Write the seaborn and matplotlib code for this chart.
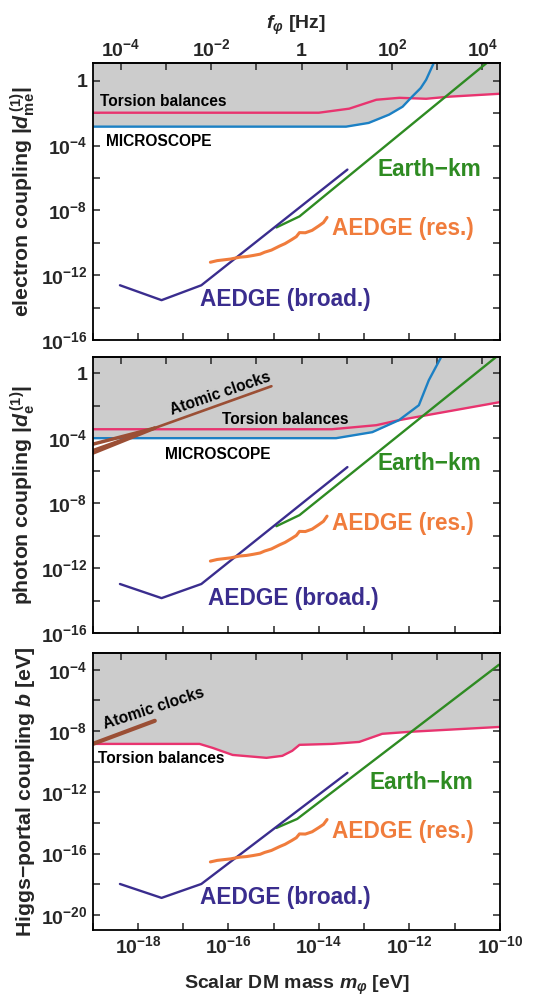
import numpy as np
import seaborn as sns
import matplotlib
matplotlib.use('Agg')
import matplotlib.pyplot as plt
from matplotlib.ticker import FixedLocator, FuncFormatter, NullLocator

sns.set_style('ticks')
plt.rcParams['font.family'] = ['Liberation Sans', 'DejaVu Sans']
plt.rcParams['font.weight'] = 'bold'
plt.rcParams['mathtext.fontset'] = 'custom'
plt.rcParams['mathtext.rm'] = 'Liberation Sans:bold'
plt.rcParams['mathtext.it'] = 'Liberation Sans:bold:italic'
plt.rcParams['mathtext.bf'] = 'Liberation Sans:bold'

# Planck constant in eV s, for f = m / h
H_EV = 4.135667e-15

# ---- data (log10 of mass in eV, log10 of coupling) ----
# panel 1: electron coupling
e_micro_x = [-19.0, -13.40, -12.90, -12.45, -12.15, -11.94, -11.75, -11.63, -11.46]
e_micro_y = [-2.83, -2.83, -2.60, -2.09, -1.60, -0.98, -0.45, 0.06, 1.10]
e_tors_x = [-19.0, -14.00, -13.33, -12.73, -12.22, -11.63, -11.12, -10.0]
e_tors_y = [-1.97, -1.97, -1.72, -1.17, -1.05, -1.11, -0.98, -0.80]
e_earth_x = [-14.94, -14.43, -10.29]
e_earth_y = [-9.05, -8.37, 1.10]
e_broad_x = [-18.40, -17.48, -16.60, -13.37]
e_broad_y = [-12.62, -13.54, -12.62, -5.48]
e_res_x = [-16.40, -16.25, -16.10, -15.95, -15.76, -15.60, -15.45, -15.30, -15.20, -15.05,
           -14.87, -14.75, -14.60, -14.50, -14.43, -14.30, -14.15, -14.00, -13.90, -13.82]
e_res_y = [-11.20, -11.10, -11.05, -11.00, -10.89, -10.85, -10.78, -10.70, -10.58, -10.45,
           -10.20, -10.05, -9.80, -9.62, -9.37, -9.38, -9.23, -8.95, -8.75, -8.43]

# panel 2: photon coupling
g_micro_x = [-19.0, -13.62, -12.82, -12.23, -11.79, -11.57, -11.30]
g_micro_y = [-4.00, -4.00, -3.63, -2.89, -1.97, -0.43, 0.98]
g_tors_x = [-19.0, -13.71, -12.73, -12.23, -10.0]
g_tors_y = [-3.45, -3.45, -3.20, -2.89, -1.78]
g_earth_x = [-14.94, -14.43, -10.09]
g_earth_y = [-9.42, -8.74, 0.98]
g_broad_x = [-18.40, -17.48, -16.60, -13.37]
g_broad_y = [-12.98, -13.85, -12.98, -5.78]
g_res_x = e_res_x
g_res_y = [-11.57, -11.47, -11.42, -11.37, -11.26, -11.22, -11.15, -11.07, -10.95, -10.82,
           -10.57, -10.42, -10.17, -9.99, -9.74, -9.75, -9.60, -9.32, -9.12, -8.80]
g_clock_x = [-19.0, -15.05]
g_clock_y = [-4.74, -0.80]
g_clock2_x = [-19.0, -17.63]
g_clock2_y = [-4.37, -3.38]
g_clock3_x = [-19.0, -17.63]
g_clock3_y = [-4.92, -3.38]

# panel 3: Higgs-portal coupling
h_tors_x = [-19.0, -16.64, -16.35, -15.91, -15.16, -14.81, -14.59, -14.43, -13.71, -13.11,
            -12.60, -12.00, -10.0]
h_tors_y = [-8.84, -8.84, -9.10, -9.56, -9.75, -9.62, -9.29, -8.90, -8.84, -8.71,
            -8.18, -8.05, -7.73]
h_earth_x = [-14.94, -14.48, -10.02]
h_earth_y = [-14.33, -13.74, -3.67]
h_broad_x = [-18.40, -17.48, -16.60, -13.37]
h_broad_y = [-17.99, -18.90, -17.99, -10.73]
h_res_x = e_res_x
h_res_y = [-16.55, -16.45, -16.40, -16.35, -16.24, -16.20, -16.13, -16.05, -15.93, -15.80,
           -15.55, -15.40, -15.15, -14.97, -14.72, -14.73, -14.58, -14.30, -14.10, -13.78]
h_clock_x = [-19.0, -17.63]
h_clock_y = [-8.84, -7.33]

PINK = '#e8346f'
BLUE = '#1c80c4'
GREEN = '#2e8b22'
PURPLE = '#3a2d8e'
ORANGE = '#f07c3c'
BROWN = '#9b4f35'
GRAY = '#cccccc'

FS_TICK = 14
FS_LAB = 14
FS_YLAB = 15.3
FS_SMALL = 11.2
FS_BIG = 16.3


def p10(v):
    return 10.0 ** np.asarray(v, dtype=float)


def line(ax, xs, ys, color, lw=1.7):
    sns.lineplot(x=p10(xs), y=p10(ys), ax=ax, color=color, lw=lw,
                 sort=False, estimator=None, legend=False)


def pow_label(v, pos):
    e = int(round(np.log10(v)))
    if e == 0:
        return '1'
    return r'$\mathbf{10^{%d}}$' % e


def setup(ax, ylo, yhi, yticks, ylabels_at, show_bottom, show_top):
    ax.set_xscale('log')
    ax.set_yscale('log')
    ax.set_xlim(1e-19, 1e-10)
    ax.set_ylim(10 ** ylo, 10 ** yhi)
    ax.xaxis.set_major_locator(FixedLocator(p10(np.arange(-19, -9))))
    ax.xaxis.set_minor_locator(NullLocator())
    ax.yaxis.set_major_locator(FixedLocator(p10(yticks)))
    ax.yaxis.set_minor_locator(NullLocator())
    ax.xaxis.set_major_formatter(FuncFormatter(
        lambda v, p: pow_label(v, p) if (show_bottom and int(round(np.log10(v))) % 2 == 0) else ''))
    ax.yaxis.set_major_formatter(FuncFormatter(
        lambda v, p: pow_label(v, p) if int(round(np.log10(v))) in ylabels_at else ''))
    ax.tick_params(axis='both', which='major', direction='in', length=5, width=1.1,
                   labelsize=FS_TICK, right=True, top=False, pad=4)
    for s in ax.spines.values():
        s.set_linewidth(1.3)
        s.set_color('black')
    sec = ax.secondary_xaxis('top', functions=(lambda m: m / H_EV, lambda f: f * H_EV))
    sec.set_xticks(p10(np.arange(-4, 5)))
    sec.xaxis.set_minor_locator(NullLocator())
    if show_top:
        sec.set_xticklabels([pow_label(v, 0) if k % 2 == 0 else '' for k, v in
                             enumerate(p10(np.arange(-4, 5)))])
        sec.set_xlabel(r'$f_{φ}$ [Hz]', fontsize=FS_LAB, fontweight='bold', labelpad=7)
    else:
        sec.set_xticklabels([''] * 9)
    sec.tick_params(axis='x', direction='in', length=5, width=1.1, labelsize=FS_TICK, pad=2)
    sec.spines['top'].set_linewidth(1.3)
    return sec


def txt(ax, x, y, s, color='black', size=FS_SMALL, **kw):
    ax.text(10 ** x, 10 ** y, s, color=color, fontsize=size, fontweight='bold',
            ha=kw.pop('ha', 'left'), va=kw.pop('va', 'center'), **kw)


fig = plt.figure(figsize=(5.46, 9.98), dpi=100)
ax1 = fig.add_axes([0.170, 0.6593, 0.7454, 0.2776])
ax2 = fig.add_axes([0.170, 0.3657, 0.7454, 0.2766])
ax3 = fig.add_axes([0.170, 0.0681, 0.7454, 0.2776])

# ---- panel 1 ----
setup(ax1, -16, 1.1, np.arange(-16, 1, 2), [-16, -12, -8, -4, 0], False, True)
ax1.fill_between(p10(e_micro_x), p10(e_micro_y), 10 ** 1.1, color=GRAY, lw=0, zorder=0)
ax1.fill_between(p10(e_tors_x), p10(e_tors_y), 10 ** 1.1, color=GRAY, lw=0, zorder=0)
line(ax1, e_tors_x, e_tors_y, PINK)
line(ax1, e_micro_x, e_micro_y, BLUE)
line(ax1, e_earth_x, e_earth_y, GREEN)
line(ax1, e_broad_x, e_broad_y, PURPLE)
line(ax1, e_res_x, e_res_y, ORANGE, lw=2.2)
txt(ax1, -18.85, -1.29, 'Torsion balances')
txt(ax1, -18.71, -3.75, 'MICROSCOPE')
txt(ax1, -12.71, -5.48, 'Earth−km', GREEN, FS_BIG)
txt(ax1, -13.71, -9.10, 'AEDGE (res.)', ORANGE, FS_BIG)
txt(ax1, -16.64, -13.48, 'AEDGE (broad.)', PURPLE, FS_BIG)
ax1.set_ylabel(r'electron coupling $|d^{\,(1)}_{\rm me}|$', fontsize=FS_YLAB,
               fontweight='bold', labelpad=3)

# ---- panel 2 ----
setup(ax2, -16, 1.0, np.arange(-16, 1, 2), [-16, -12, -8, -4, 0], False, False)
ax2.fill_between(p10(g_micro_x), p10(g_micro_y), 10 ** 1.0, color=GRAY, lw=0, zorder=0)
ax2.fill_between(p10(g_tors_x), p10(g_tors_y), 10 ** 1.0, color=GRAY, lw=0, zorder=0)
line(ax2, g_tors_x, g_tors_y, PINK)
line(ax2, g_micro_x, g_micro_y, BLUE)
line(ax2, g_earth_x, g_earth_y, GREEN)
line(ax2, g_broad_x, g_broad_y, PURPLE)
line(ax2, g_res_x, g_res_y, ORANGE, lw=2.2)
line(ax2, g_clock_x, g_clock_y, BROWN, lw=1.9)
line(ax2, g_clock2_x, g_clock2_y, BROWN, lw=2.5)
line(ax2, g_clock3_x, g_clock3_y, BROWN, lw=2.5)
txt(ax2, -16.18, -1.23, 'Atomic clocks', ha='center', rotation=19, rotation_mode='anchor')
txt(ax2, -16.15, -2.83, 'Torsion balances')
txt(ax2, -17.41, -4.98, 'MICROSCOPE')
txt(ax2, -12.71, -5.54, 'Earth−km', GREEN, FS_BIG)
txt(ax2, -13.71, -9.23, 'AEDGE (res.)', ORANGE, FS_BIG)
txt(ax2, -16.46, -13.85, 'AEDGE (broad.)', PURPLE, FS_BIG)
ax2.set_ylabel(r'photon coupling $|d^{\,(1)}_{\rm e}|$', fontsize=FS_YLAB,
               fontweight='bold', labelpad=3)

# ---- panel 3 ----
setup(ax3, -21, -2.9, np.arange(-20, -3, 2), [-20, -16, -12, -8, -4], True, False)
ax3.fill_between(p10(h_tors_x), p10(h_tors_y), 10 ** -2.9, color=GRAY, lw=0, zorder=0)
line(ax3, h_tors_x, h_tors_y, PINK)
line(ax3, h_earth_x, h_earth_y, GREEN)
line(ax3, h_broad_x, h_broad_y, PURPLE)
line(ax3, h_res_x, h_res_y, ORANGE, lw=2.2)
line(ax3, h_clock_x, h_clock_y, BROWN, lw=3.0)
txt(ax3, -17.65, -6.55, 'Atomic clocks', ha='center', rotation=18, rotation_mode='anchor')
txt(ax3, -18.89, -9.82, 'Torsion balances')
txt(ax3, -12.89, -11.39, 'Earth−km', GREEN, FS_BIG)
txt(ax3, -13.71, -14.59, 'AEDGE (res.)', ORANGE, FS_BIG)
txt(ax3, -16.64, -18.90, 'AEDGE (broad.)', PURPLE, FS_BIG)
ax3.set_ylabel(r'Higgs−portal coupling $b$ [eV]', fontsize=FS_YLAB,
               fontweight='bold', labelpad=3)
ax3.set_xlabel(r'Scalar DM mass $m_{φ}$ [eV]', fontsize=FS_LAB, fontweight='bold', labelpad=12)

fig.savefig('out.png', dpi=100)
